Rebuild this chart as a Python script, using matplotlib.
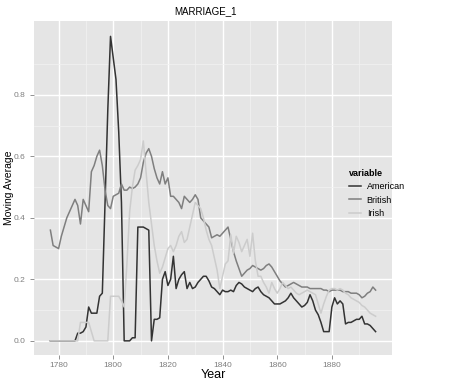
import numpy as np
import matplotlib.pyplot as plt
from matplotlib.ticker import MultipleLocator

plt.rcParams["font.family"] = ["Liberation Sans", "DejaVu Sans"]

years = list(range(1777, 1897))

american = [
    0, 0, 0, 0, 0, 0, 0, 0, 0, 0,                                   # 1777-1786
    0.025, 0.025, 0.03, 0.045, 0.11, 0.09, 0.09, 0.09, 0.145, 0.155,  # 1787-1796
    0.45, 0.75, 0.99, 0.92, 0.85, 0.68, 0.45, 0.0, 0.0, 0.0,          # 1797-1806
    0.01, 0.01, 0.37, 0.37, 0.37, 0.365, 0.36, 0.0, 0.07, 0.07,       # 1807-1816
    0.075, 0.2, 0.225, 0.18, 0.2, 0.275, 0.17, 0.2, 0.215, 0.225,     # 1817-1826
    0.17, 0.19, 0.17, 0.175, 0.19, 0.2, 0.21, 0.21, 0.195, 0.175,     # 1827-1836
    0.17, 0.16, 0.15, 0.165, 0.16, 0.16, 0.165, 0.16, 0.18, 0.19,     # 1837-1846
    0.185, 0.175, 0.17, 0.165, 0.16, 0.17, 0.175, 0.16, 0.15, 0.145,  # 1847-1856
    0.14, 0.13, 0.12, 0.12, 0.12, 0.125, 0.13, 0.14, 0.155, 0.14,     # 1857-1866
    0.13, 0.12, 0.11, 0.115, 0.125, 0.15, 0.13, 0.10, 0.085, 0.06,    # 1867-1876
    0.03, 0.03, 0.03, 0.11, 0.14, 0.12, 0.13, 0.12, 0.055, 0.06,      # 1877-1886
    0.06, 0.065, 0.07, 0.07, 0.08, 0.055, 0.055, 0.05, 0.04, 0.03,    # 1887-1896
]

british = [
    0.36, 0.31, 0.305, 0.30, 0.34, 0.37, 0.40, 0.42, 0.44, 0.46,      # 1777-1786
    0.44, 0.38, 0.46, 0.44, 0.42, 0.55, 0.57, 0.60, 0.62, 0.57,       # 1787-1796
    0.49, 0.44, 0.43, 0.47, 0.475, 0.48, 0.51, 0.49, 0.49, 0.50,      # 1797-1806
    0.495, 0.50, 0.51, 0.53, 0.58, 0.61, 0.625, 0.60, 0.56, 0.53,     # 1807-1816
    0.51, 0.55, 0.51, 0.53, 0.47, 0.47, 0.46, 0.45, 0.43, 0.47,       # 1817-1826
    0.46, 0.45, 0.46, 0.475, 0.46, 0.40, 0.39, 0.38, 0.37, 0.335,     # 1827-1836
    0.34, 0.345, 0.34, 0.35, 0.36, 0.37, 0.33, 0.29, 0.26, 0.235,     # 1837-1846
    0.21, 0.22, 0.23, 0.235, 0.245, 0.24, 0.235, 0.23, 0.235, 0.245,  # 1847-1856
    0.25, 0.24, 0.225, 0.21, 0.195, 0.185, 0.175, 0.18, 0.185, 0.19,  # 1857-1866
    0.185, 0.18, 0.175, 0.175, 0.175, 0.17, 0.17, 0.17, 0.17, 0.17,   # 1867-1876
    0.165, 0.165, 0.16, 0.165, 0.165, 0.165, 0.165, 0.16, 0.16, 0.16, # 1877-1886
    0.155, 0.155, 0.155, 0.15, 0.14, 0.145, 0.155, 0.16, 0.175, 0.165,# 1887-1896
]

irish = [
    0, 0, 0, 0, 0, 0, 0, 0, 0, 0,                                   # 1777-1786
    0, 0.06, 0.06, 0.06, 0.06, 0.03, 0, 0, 0, 0,                      # 1787-1796
    0, 0, 0.145, 0.145, 0.145, 0.145, 0.13, 0.11, 0.25, 0.42,         # 1797-1806
    0.50, 0.555, 0.57, 0.59, 0.65, 0.55, 0.45, 0.38, 0.31, 0.26,      # 1807-1816
    0.22, 0.24, 0.27, 0.30, 0.31, 0.29, 0.31, 0.34, 0.355, 0.32,      # 1817-1826
    0.33, 0.37, 0.41, 0.45, 0.44, 0.43, 0.40, 0.36, 0.33, 0.31,       # 1827-1836
    0.27, 0.23, 0.17, 0.21, 0.25, 0.26, 0.345, 0.285, 0.34, 0.32,     # 1837-1846
    0.29, 0.31, 0.33, 0.275, 0.35, 0.26, 0.21, 0.21, 0.19, 0.175,     # 1847-1856
    0.155, 0.19, 0.17, 0.155, 0.17, 0.19, 0.18, 0.17, 0.175, 0.165,   # 1857-1866
    0.155, 0.15, 0.155, 0.16, 0.165, 0.16, 0.155, 0.15, 0.12, 0.09,   # 1867-1876
    0.12, 0.145, 0.165, 0.17, 0.17, 0.165, 0.17, 0.165, 0.155, 0.15,  # 1877-1886
    0.14, 0.135, 0.13, 0.125, 0.115, 0.11, 0.10, 0.09, 0.085, 0.08,   # 1887-1896
]

xticks = [1780, 1800, 1820, 1840, 1860, 1880]
yticks = [0.0, 0.2, 0.4, 0.6, 0.8]

fig = plt.figure(figsize=(4.6, 3.81), dpi=100)
ax = fig.add_axes([34 / 460, 1 - 355 / 381, (392 - 34) / 460, (355 - 21) / 381])
ax.set_facecolor("#E5E5E5")

ax.plot(years, american, color="#333333", lw=1.1, label="American", zorder=3)
ax.plot(years, british, color="#7F7F7F", lw=1.1, label="British", zorder=3)
ax.plot(years, irish, color="#CCCCCC", lw=1.1, label="Irish", zorder=3)

ax.set_xlim(1771, 1902)
ax.set_ylim(-0.046, 1.04)
ax.set_xticks(xticks)
ax.set_xticks([1790, 1810, 1830, 1850, 1870, 1890], minor=True)
ax.set_yticks(yticks)
ax.set_yticklabels([f"{v:.1f}" for v in yticks])
ax.set_yticks([0.1, 0.3, 0.5, 0.7, 0.9], minor=True)
ax.grid(True, which="major", color="white", lw=1.0)
ax.grid(True, which="minor", color="#F2F2F2", lw=0.5)
ax.set_axisbelow(True)
for s in ax.spines.values():
    s.set_visible(False)
ax.tick_params(which="major", colors="#7F7F7F", labelsize=6, length=3, width=0.6, pad=2)
ax.tick_params(axis="y", which="major", pad=3)
ax.tick_params(which="minor", length=0)

ax.set_title("MARRIAGE_1", fontsize=7, pad=5, x=0.48)
ax.set_xlabel("Year", fontsize=9, labelpad=0)
ax.set_ylabel("Moving Average", fontsize=7.5)
ax.yaxis.set_label_coords(-0.056, 0.5)

leg = fig.legend(loc="upper left", bbox_to_anchor=(345 / 460, 1 - 165 / 381),
                 title="variable", frameon=False, fontsize=6.5, title_fontsize=6.5,
                 handlelength=1.4, handletextpad=0.6, labelspacing=0.5,
                 borderaxespad=0)
leg.get_title().set_fontweight("bold")
leg._legend_box.align = "left"

plt.savefig("out.png", dpi=100)
